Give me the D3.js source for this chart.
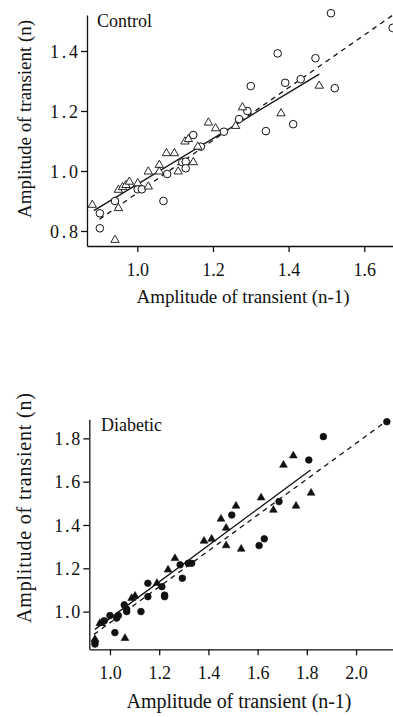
<!DOCTYPE html>
<html><head><meta charset="utf-8">
<script src="https://cdn.jsdelivr.net/npm/d3@7"></script>
<style>html,body{margin:0;padding:0;background:#fff;}svg{display:block;}</style>
</head><body>
<svg id="c" width="393" height="717"></svg>
<script>
// ---- Control panel data ----
const controlCircles = [
 [1.512,1.526],[1.675,1.477],[1.371,1.392],[1.471,1.376],[1.522,1.276],[1.300,1.283],
 [1.391,1.294],[1.432,1.306],[1.291,1.200],[1.412,1.156],[1.340,1.133],[1.269,1.173],
 [1.229,1.131],[1.148,1.120],[1.168,1.081],[1.119,1.029],[1.128,1.031],[1.128,1.009],
 [1.079,0.990],[1.069,0.900],[1.001,0.939],[1.012,0.939],[0.941,0.900],[0.901,0.859],[0.901,0.809]
];
const controlTriangles = [
 [1.481,1.284],[1.278,1.212],[1.380,1.192],[1.188,1.161],[1.260,1.150],[1.207,1.142],
 [1.126,1.098],[1.135,1.106],[1.160,1.081],[1.077,1.059],[1.098,1.059],[1.058,1.020],
 [1.148,1.029],[1.108,0.998],[1.058,0.998],[1.029,0.998],[1.001,0.959],[1.029,0.948],
 [0.950,0.937],[0.961,0.946],[0.970,0.953],[0.979,0.964],[0.881,0.887],[0.950,0.876],[0.941,0.770]
];
const controlSolid = [[0.885,0.868],[1.481,1.323]];
const controlDashed = [[0.900,0.839],[1.676,1.520]];
const controlXTicks = [1.0,1.2,1.4,1.6];
const controlYTicks = [0.8,1.0,1.2,1.4];

// ---- Diabetic panel data ----
const diabeticCircles = [
 [2.125,1.877],[1.867,1.808],[1.808,1.700],[1.687,1.508],[1.495,1.446],[1.606,1.305],
 [1.627,1.336],[1.332,1.223],[1.318,1.223],[1.285,1.216],[1.294,1.154],[1.211,1.115],
 [1.222,1.069],[1.222,1.076],[1.154,1.131],[1.154,1.069],[1.126,1.000],[1.058,1.031],
 [1.068,1.011],[1.068,1.000],[1.000,0.982],[1.027,0.970],[1.034,0.982],[1.020,0.903],
 [0.977,0.958],[0.939,0.850],[0.939,0.862]
];
const diabeticTriangles = [
 [1.745,1.720],[1.705,1.677],[1.817,1.548],[1.614,1.526],[1.756,1.488],[1.512,1.488],
 [1.664,1.469],[1.451,1.428],[1.472,1.386],[1.382,1.326],[1.413,1.335],[1.472,1.305],
 [1.533,1.289],[1.264,1.246],[1.236,1.193],[1.191,1.131],[1.088,1.062],[1.102,1.072],
 [0.966,0.946],[0.959,0.946],[1.061,0.877],[0.939,0.872]
];
const diabeticSolid = [[0.939,0.918],[1.815,1.654]];
const diabeticDashed = [[0.935,0.895],[2.130,1.885]];
const diabeticXTicks = [1.0,1.2,1.4,1.6,1.8,2.0];
const diabeticYTicks = [1.0,1.2,1.4,1.6,1.8];

const xTitle = "Amplitude of transient (n-1)";
const yTitle = "Amplitude of transient (n)";

const svg = d3.select("#c");
const FONT = "'Liberation Serif','Times New Roman',serif";

function panel(o){
  const g = svg.append("g");
  const x = d3.scaleLinear().domain(o.xd).range(o.xr);
  const y = d3.scaleLinear().domain(o.yd).range(o.yr);
  const xa = g.append("g").attr("transform",`translate(0,${o.yr[0]})`)
    .call(d3.axisBottom(x).tickValues(o.xt).tickFormat(d3.format(".1f")).tickSize(6).tickSizeOuter(0).tickPadding(11));
  const ya = g.append("g").attr("transform",`translate(${o.xr[0]},0)`)
    .call(d3.axisLeft(y).tickValues(o.yt).tickFormat(d3.format(".1f")).tickSize(6).tickSizeOuter(0).tickPadding(3));
  [xa,ya].forEach(a=>{
    a.selectAll("path,line").attr("stroke","#111").attr("stroke-width",1.3);
    a.selectAll("text").attr("font-family",FONT).attr("font-size",18).attr("fill","#111");
  });
  ya.selectAll("text").attr("dy","0.35em").attr("textLength",o.ytLen).attr("lengthAdjust","spacing");
  const line = d3.line().x(d=>x(d[0])).y(d=>y(d[1]));
  g.append("path").attr("d",line(o.solid)).attr("fill","none").attr("stroke","#111").attr("stroke-width",1.3);
  g.append("path").attr("d",line(o.dashed)).attr("fill","none").attr("stroke","#111").attr("stroke-width",1.3).attr("stroke-dasharray","5,4.5");
  const fill = o.filled ? "#111" : "#fff";
  g.selectAll(".c").data(o.circles).enter().append("circle")
    .attr("cx",d=>x(d[0])).attr("cy",d=>y(d[1])).attr("r",o.filled?3.3:3.8)
    .attr("fill",fill).attr("stroke","#111").attr("stroke-width",o.filled?0.8:1);
  const tri = d3.symbol().type(d3.symbolTriangle).size(o.filled?26:30);
  g.selectAll(".t").data(o.triangles).enter().append("path")
    .attr("d",tri).attr("transform",d=>`translate(${x(d[0])},${y(d[1])})`)
    .attr("fill",fill).attr("stroke","#111").attr("stroke-width",o.filled?0.6:0.9);
  g.append("text").attr("x",o.labelPos[0]).attr("y",o.labelPos[1]).text(o.label)
    .attr("font-family",FONT).attr("font-size",18).attr("fill","#111");
  g.append("text").attr("x",o.xtPos[0]).attr("y",o.xtPos[1]).attr("text-anchor","middle").text(xTitle)
    .attr("font-family",FONT).attr("font-size",o.titleSize).attr("fill","#111")
    .attr("textLength",o.xtLen).attr("lengthAdjust","spacing");
  g.append("text").attr("transform",`translate(${o.ytPos[0]},${o.ytPos[1]}) rotate(-90)`).attr("text-anchor","middle").text(yTitle)
    .attr("font-family",FONT).attr("font-size",o.titleSize).attr("fill","#111")
    .attr("textLength",o.yLen).attr("lengthAdjust","spacing");
}

panel({xd:[0.867,1.676], xr:[87,393], yd:[0.75,1.52], yr:[246,15],
  xt:controlXTicks, yt:controlYTicks, solid:controlSolid, dashed:controlDashed,
  circles:controlCircles, triangles:controlTriangles, filled:false, ytLen:28,
  titleSize:19, xtLen:213, yLen:198,
  label:"Control", labelPos:[97,27], xtPos:[243,303], ytPos:[31,119]});

panel({xd:[0.916,2.150], xr:[89.3,393], yd:[0.826,1.888], yr:[649.3,419.3],
  xt:diabeticXTicks, yt:diabeticYTicks, solid:diabeticSolid, dashed:diabeticDashed,
  circles:diabeticCircles, triangles:diabeticTriangles, filled:true, ytLen:26,
  titleSize:20, xtLen:225, yLen:230,
  label:"Diabetic", labelPos:[101,431], xtPos:[239,708], ytPos:[31,508]});
</script>
</body></html>
